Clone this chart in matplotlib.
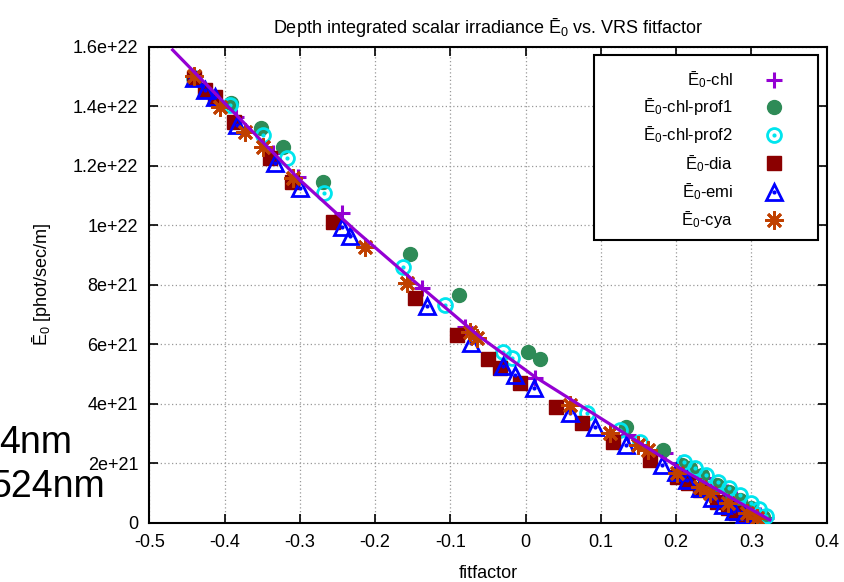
import matplotlib
matplotlib.use('Agg')
import matplotlib.pyplot as plt
from matplotlib.patches import Rectangle

plt.rcParams['font.family'] = ['Liberation Sans', 'DejaVu Sans']
plt.rcParams['mathtext.default'] = 'regular'

SCALE = 1e21  # values below are in 1e21 phot/sec/m

# E0-chl (+)
chl_x = [-0.44, -0.385, -0.335, -0.302, -0.244, -0.138, -0.081, 0.012, 0.136, 0.185,
         0.205, 0.222, 0.238, 0.253, 0.267, 0.280, 0.292, 0.303, 0.312, 0.320]
chl_y = [15.0, 13.63, 12.42, 11.63, 10.40, 7.88, 6.59, 4.85, 2.95, 2.33,
         2.02, 1.75, 1.50, 1.25, 1.02, 0.80, 0.60, 0.42, 0.27, 0.15]

# E0-chl-prof1 (filled circle)
prof1_x = [-0.44, -0.391, -0.351, -0.322, -0.269, -0.154, -0.088, 0.0035, 0.019, 0.134,
           0.183, 0.2075, 0.218, 0.234, 0.254, 0.270, 0.285, 0.300, 0.315]
prof1_y = [14.95, 14.1, 13.26, 12.64, 11.46, 9.03, 7.65, 5.75, 5.49, 3.23,
           2.44, 1.94, 1.83, 1.60, 1.27, 1.02, 0.75, 0.48, 0.20]

# E0-chl-prof2 (open circle)
prof2_x = [-0.44, -0.393, -0.349, -0.3175, -0.268, -0.163, -0.107, -0.0297, -0.0185, 0.081,
           0.125, 0.152, 0.210, 0.225, 0.240, 0.255, 0.270, 0.285, 0.300, 0.310, 0.320]
prof2_y = [14.95, 14.04, 13.03, 12.25, 11.07, 8.58, 7.32, 5.75, 5.53, 3.68,
           3.11, 2.72, 2.05, 1.85, 1.60, 1.38, 1.15, 0.92, 0.65, 0.45, 0.22]

# E0-dia (filled square)
dia_x = [-0.44, -0.426, -0.413, -0.388, -0.340, -0.311, -0.2555, -0.147, -0.0908, -0.0496,
         -0.034, -0.0075, 0.041, 0.0745, 0.1165, 0.165, 0.2007, 0.2155, 0.232, 0.254,
         0.269, 0.280, 0.291]
dia_y = [14.95, 14.54, 14.3, 13.48, 12.25, 11.46, 10.12, 7.54, 6.31, 5.49,
         5.19, 4.69, 3.90, 3.34, 2.72, 2.11, 1.55, 1.34, 1.10, 0.71,
         0.49, 0.32, 0.15]

# E0-emi (open triangle)
emi_x = [-0.44, -0.426, -0.413, -0.384, -0.333, -0.300, -0.244, -0.233, -0.1315, -0.072,
         -0.0305, -0.0142, 0.011, 0.059, 0.092, 0.134, 0.181, 0.200, 0.215, 0.232,
         0.247, 0.262, 0.277, 0.290, 0.300]
emi_y = [14.95, 14.54, 14.3, 13.37, 12.08, 11.24, 9.95, 9.64, 7.28, 6.03,
         5.27, 4.96, 4.52, 3.68, 3.23, 2.61, 1.94, 1.70, 1.45, 1.15,
         0.82, 0.60, 0.40, 0.25, 0.12]

# E0-cya (asterisk)
cya_x = [-0.44, -0.406, -0.373, -0.349, -0.309, -0.213, -0.158, -0.074, -0.065, 0.059,
         0.112, 0.1497, 0.163, 0.2007, 0.232, 0.245, 0.269, 0.294, 0.307]
cya_y = [15.0, 13.98, 13.14, 12.64, 11.58, 9.28, 8.05, 6.42, 6.2, 3.96,
         3.00, 2.61, 2.44, 1.66, 1.21, 0.99, 0.65, 0.32, 0.15]

# fitted curve
fit_x = [-0.469, -0.30, -0.227, -0.145, -0.061, 0.012, 0.205, 0.3245]
fit_y = [15.89, 11.52, 9.84, 8.05, 6.25, 4.91, 1.83, 0.09]

x_ticks = [-0.5, -0.4, -0.3, -0.2, -0.1, 0, 0.1, 0.2, 0.3, 0.4]
x_labels = ['-0.5', '-0.4', '-0.3', '-0.2', '-0.1', '0', '0.1', '0.2', '0.3', '0.4']
y_ticks = [0, 2, 4, 6, 8, 10, 12, 14, 16]
y_labels = ['0', '2e+21', '4e+21', '6e+21', '8e+21', '1e+22', '1.2e+22', '1.4e+22', '1.6e+22']

E0 = '\u0112$_0$'
labels = [E0 + '-chl', E0 + '-chl-prof1', E0 + '-chl-prof2', E0 + '-dia', E0 + '-emi', E0 + '-cya']

purple = '#9400d3'
green = '#2e8b57'
cyan = '#00e5ee'
darkred = '#8b0000'
blue = '#0000ff'
orange = '#c04000'

styles = [
    dict(marker='+', ms=12, mew=2.2, color=purple),
    dict(marker='o', ms=10, color=green, mec=green),
    dict(marker='o', ms=10, mfc='none', mec=cyan, mew=2),
    dict(marker='s', ms=10, color=darkred),
    dict(marker='^', ms=11, mfc='none', mec=blue, mew=2),
    dict(marker=(8, 2, 0), ms=13, mew=2, color=orange),
]
dots = [None, None, cyan, None, blue, None]

fig = plt.figure(figsize=(8.44, 5.82), dpi=100)
ax = fig.add_axes([0.1769, 0.1019, 0.8026, 0.8179])

data = [(prof1_x, prof1_y, 1), (prof2_x, prof2_y, 2), (dia_x, dia_y, 3),
        (emi_x, emi_y, 4), (cya_x, cya_y, 5), (chl_x, chl_y, 0)]
for xs, ys, i in data:
    yv = [v * SCALE for v in ys]
    ax.plot(xs, yv, ls='none', zorder=3 + i * 0.1, **styles[i])
    if dots[i]:
        ax.plot(xs, yv, ls='none', marker='o', ms=2, color=dots[i], zorder=3 + i * 0.1)

ax.plot(fit_x, [v * SCALE for v in fit_y], color=purple, lw=2.3, zorder=4)

ax.set_xlim(-0.5, 0.4)
ax.set_ylim(0, 16 * SCALE)
ax.set_xticks(x_ticks)
ax.set_xticklabels(x_labels)
ax.set_yticks([v * SCALE for v in y_ticks])
ax.set_yticklabels(y_labels)
ax.tick_params(direction='in', top=True, right=True, length=6.5, width=1.2,
               labelsize=13, pad=8)
ax.grid(True, color='#999999', ls=(0, (1, 2)), lw=0.9)
for sp in ax.spines.values():
    sp.set_linewidth(1.5)

ax.set_title('Depth integrated scalar irradiance ' + E0 + ' vs. VRS fitfactor',
             fontsize=13, pad=10)
ax.set_xlabel('fitfactor', fontsize=13, labelpad=10)
ax.set_ylabel(E0 + ' [phot/sec/m]', fontsize=13, labelpad=14)

# key box
ax.add_patch(Rectangle((0.6565, 0.5935), 0.3306, 0.3891, transform=ax.transAxes,
                       facecolor='white', edgecolor='black', lw=1.5, zorder=6))
row_y = [0.930, 0.8743, 0.8147, 0.7552, 0.6955, 0.6359]
for i, lab in enumerate(labels):
    ax.text(0.8617, row_y[i], lab, transform=ax.transAxes, ha='right', va='center',
            fontsize=12, zorder=7)
    ax.plot([0.9222], [row_y[i]], transform=ax.transAxes, ls='none', clip_on=False,
            zorder=7, **styles[i])
    if dots[i]:
        ax.plot([0.9222], [row_y[i]], transform=ax.transAxes, ls='none', clip_on=False,
                marker='o', ms=2, color=dots[i], zorder=7)

# leftover slide text, cut at the left edge as in the source slide
fig.text(72 / 844, 1 - 453 / 582, '4nm', fontsize=27, ha='right', va='baseline')
fig.text(105 / 844, 1 - 497 / 582, '524nm', fontsize=27, ha='right', va='baseline')

fig.savefig('out.png', dpi=100, facecolor='white')
